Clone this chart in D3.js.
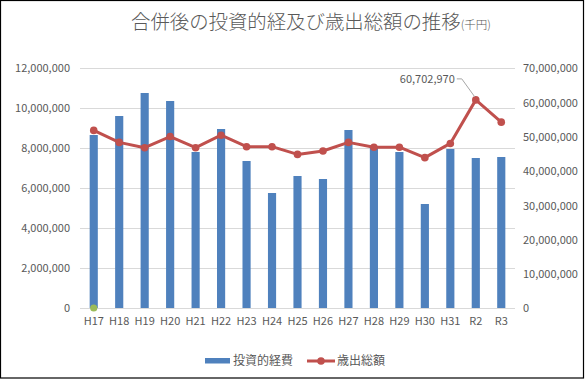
<!DOCTYPE html>
<html><head><meta charset="utf-8">
<script src="https://cdn.jsdelivr.net/npm/d3@7"></script>
<style>
html,body{margin:0;padding:0;background:#fff;}
svg{display:block;}
text{font-family:"Noto Sans CJK JP","Noto Sans",sans-serif;}
</style></head>
<body>
<script>
const categories = ["H17","H18","H19","H20","H21","H22","H23","H24","H25","H26","H27","H28","H29","H30","H31","R2","R3"];
const investment = [8650000,9600000,10750000,10350000,7800000,8950000,7350000,5750000,6600000,6450000,8900000,8000000,7800000,5200000,7950000,7500000,7550000];
const totalExpenditure = [51800000,48300000,46750000,50000000,46750000,50400000,47050000,47050000,44800000,45800000,48300000,46900000,46900000,43850000,48000000,60702970,54200000];
const extraPoint = [0];
const leftTicks = [0,2000000,4000000,6000000,8000000,10000000,12000000];
const rightTicks = [0,10000000,20000000,30000000,40000000,50000000,60000000,70000000];
const seriesNames = ["投資的経費","歳出総額"];
const title = "合併後の投資的経及び歳出総額の推移";
const titleUnit = "(千円)";
const annotated = "R2";

const W = 585, H = 380;
const svg = d3.select("body").append("svg").attr("width", W).attr("height", H);
svg.append("rect").attr("x",0.5).attr("y",0.5).attr("width",W-2).attr("height",H-2.5)
  .attr("fill","#fff").attr("stroke","#000").attr("stroke-width",1.2);

const plot = {left:81, right:514, top:68, bottom:308};
const x = d3.scaleBand().domain(categories).range([plot.left, plot.right]).paddingInner(0.68).paddingOuter(0.34);
const yL = d3.scaleLinear().domain([0,12000000]).range([plot.bottom, plot.top]);
const yR = d3.scaleLinear().domain([0,70000000]).range([plot.bottom, plot.top]);
const fmt = d3.format(",");
const txt = "#595959";

// gridlines
svg.append("g").selectAll("line").data(leftTicks).join("line")
  .attr("x1", plot.left-1).attr("x2", plot.right+1)
  .attr("y1", d=>Math.round(yL(d))+0.5).attr("y2", d=>Math.round(yL(d))+0.5)
  .attr("stroke","#d9d9d9").attr("stroke-width",1);

// left axis
const gL = svg.append("g").attr("transform",`translate(${plot.left-11},0)`)
  .call(d3.axisLeft(yL).tickValues(leftTicks).tickFormat(fmt).tickSize(0).tickPadding(0));
gL.select(".domain").remove();
gL.selectAll("text").attr("font-size",11).attr("fill",txt).attr("dy","0.35em");

// right axis
const gR = svg.append("g").attr("transform",`translate(${plot.right+9},0)`)
  .call(d3.axisRight(yR).tickValues(rightTicks).tickFormat(fmt).tickSize(0).tickPadding(0));
gR.select(".domain").remove();
gR.selectAll("text").attr("font-size",11).attr("fill",txt).attr("dy","0.35em");

// x axis
const gX = svg.append("g").attr("transform",`translate(0,${plot.bottom+9})`)
  .call(d3.axisBottom(x).tickSize(0).tickPadding(0));
gX.select(".domain").remove();
gX.selectAll("text").attr("font-size",11).attr("fill",txt).attr("dy","0.71em");

// bars
svg.append("g").selectAll("rect").data(investment).join("rect")
  .attr("x",(d,i)=>x(categories[i])).attr("width",x.bandwidth())
  .attr("y",d=>yL(d)).attr("height",d=>yL(0)-yL(d)).attr("fill","#4F81BD");

// line
const cx = i => x(categories[i]) + x.bandwidth()/2;
svg.append("path").datum(totalExpenditure)
  .attr("d", d3.line().x((d,i)=>cx(i)).y(d=>yR(d)))
  .attr("fill","none").attr("stroke","#C0504D").attr("stroke-width",3).attr("stroke-linejoin","round");
svg.append("g").selectAll("circle").data(totalExpenditure).join("circle")
  .attr("cx",(d,i)=>cx(i)).attr("cy",d=>yR(d)).attr("r",3.8).attr("fill","#C0504D");

// extra green marker
svg.append("g").selectAll("circle").data(extraPoint).join("circle")
  .attr("cx",(d,i)=>cx(i)).attr("cy",d=>yL(d)).attr("r",3.6).attr("fill","#9BBB59");

// annotation
const ai = categories.indexOf(annotated);
const ax = cx(ai), ay = yR(totalExpenditure[ai]);
svg.append("polyline")
  .attr("points", `${ax-1},${ay-3} ${ax-14},${ay-21} ${ax-19},${ay-21}`)
  .attr("fill","none").attr("stroke","#a6a6a6").attr("stroke-width",1);
svg.append("text").attr("x", ax-21).attr("y", ay-21).attr("dy","0.35em")
  .attr("text-anchor","end").attr("font-size",11).attr("fill",txt)
  .text(fmt(totalExpenditure[ai]));

// title
const t = svg.append("text").attr("x",131).attr("y",29).attr("fill",txt).attr("font-weight",300);
t.append("tspan").attr("font-size",19.4).text(title);
t.append("tspan").attr("font-size",11.5).text(titleUnit);

// legend
const lg = svg.append("g");
lg.append("rect").attr("x",205).attr("y",358).attr("width",25).attr("height",5.5).attr("fill","#4F81BD");
lg.append("text").attr("x",233).attr("y",361).attr("dy","0.35em").attr("font-size",12).attr("fill",txt).text(seriesNames[0]);
lg.append("line").attr("x1",307).attr("x2",335).attr("y1",361).attr("y2",361).attr("stroke","#C0504D").attr("stroke-width",3);
lg.append("circle").attr("cx",321).attr("cy",361).attr("r",3.8).attr("fill","#C0504D");
lg.append("text").attr("x",337).attr("y",361).attr("dy","0.35em").attr("font-size",12).attr("fill",txt).text(seriesNames[1]);
</script>
</body></html>
